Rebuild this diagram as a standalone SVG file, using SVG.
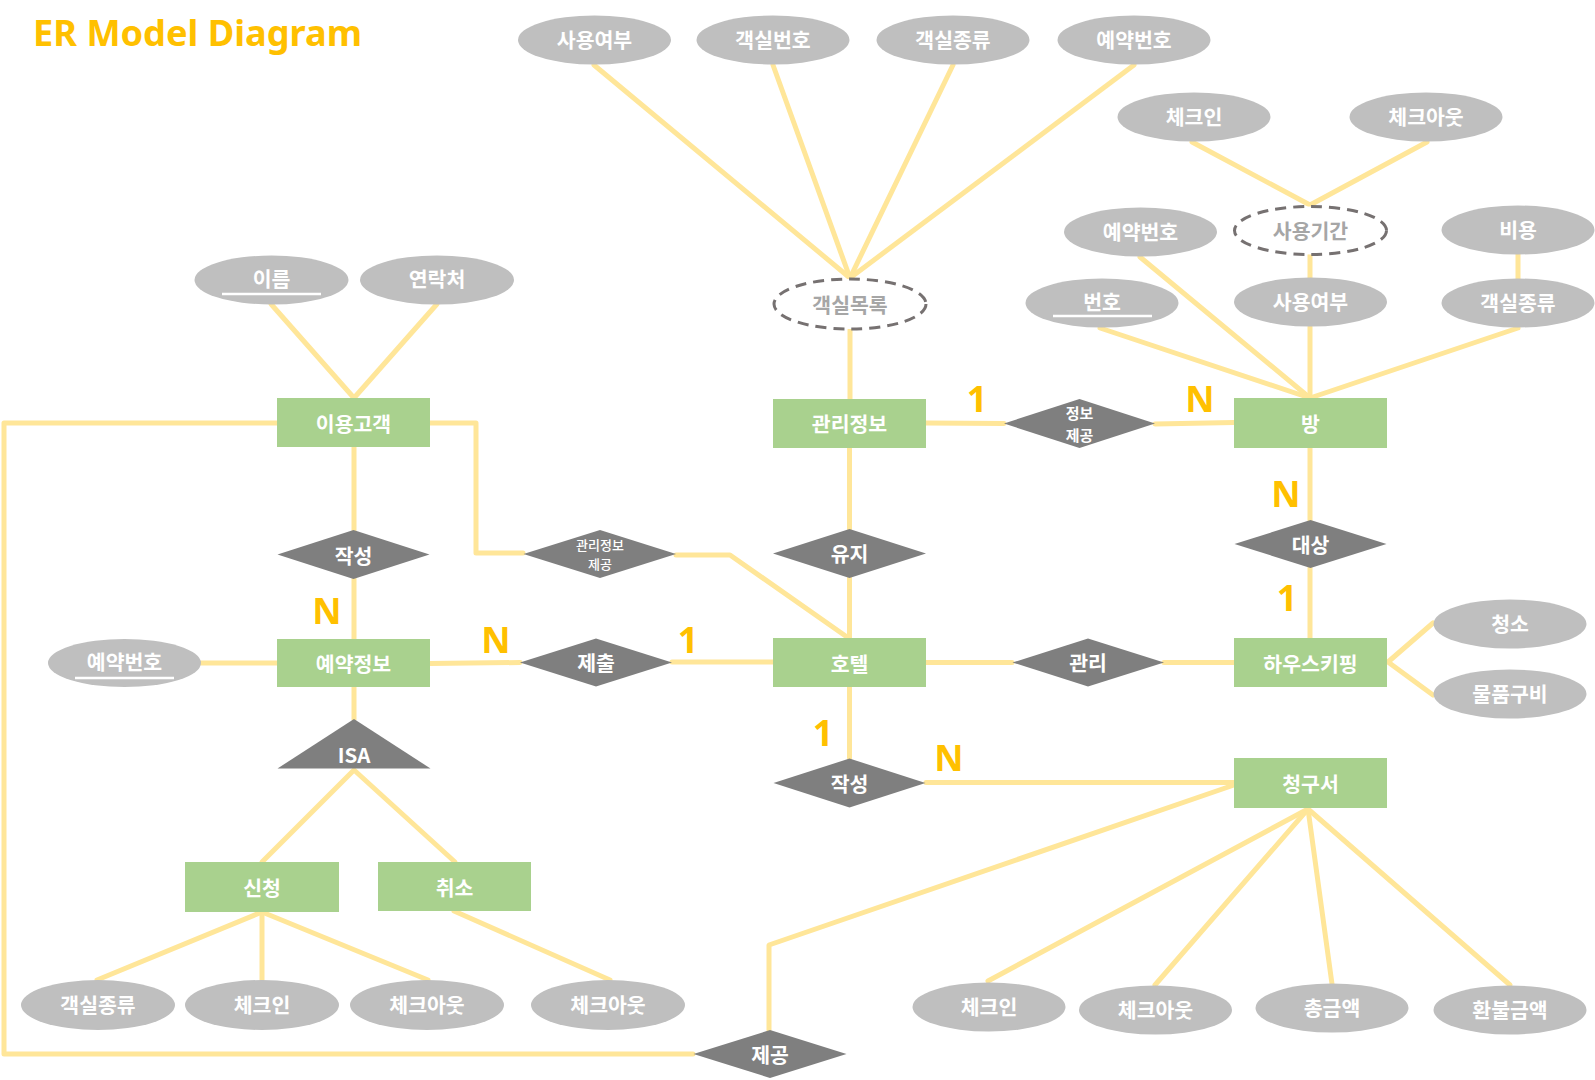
<svg xmlns="http://www.w3.org/2000/svg" width="1595" height="1080" viewBox="0 0 1595 1080">
<style>
.c{fill:none;stroke:#FFE699;stroke-width:5;stroke-linecap:round;stroke-linejoin:round}
.ent{fill:#A9D18E}
.rel{fill:#7F7F7F}
.att{fill:#BFBFBF}
.der{fill:#FFFFFF;stroke:#767171;stroke-width:3;stroke-dasharray:11 7}
.t{font-family:"Noto Sans CJK KR","Noto Sans",sans-serif;font-weight:700;font-size:20.5px;fill:#FFFFFF;text-anchor:middle;dominant-baseline:central}
.td{fill:#A6A6A6}
.s15{font-size:15px}
.s14{font-size:13px;font-weight:500}
.card{font-family:"Noto Sans","Noto Sans CJK KR",sans-serif;font-weight:700;font-size:36px;fill:#FFC000;text-anchor:middle}
.ul{stroke:#FFFFFF;stroke-width:2.5}
</style>
<rect width="1595" height="1080" fill="#FFFFFF"/>
<text x="33" y="46" font-family="Noto Sans, Noto Sans CJK KR, sans-serif" font-weight="700" font-size="36" fill="#FFC000" textLength="329" lengthAdjust="spacingAndGlyphs">ER Model Diagram</text>
<g id="connectors">
<polyline class="c" points="271,304 354,398 437,304"/>
<line class="c" x1="354" y1="447" x2="354" y2="530"/>
<line class="c" x1="354" y1="579" x2="354" y2="639"/>
<line class="c" x1="201" y1="663" x2="277" y2="663"/>
<line class="c" x1="430" y1="663.5" x2="520" y2="662.5"/>
<line class="c" x1="672" y1="662" x2="773" y2="662"/>
<line class="c" x1="354" y1="687" x2="354" y2="719"/>
<polyline class="c" points="262,862 354,770 455,862"/>
<line class="c" x1="262" y1="912" x2="97" y2="980"/>
<line class="c" x1="262" y1="912" x2="262" y2="980"/>
<line class="c" x1="262" y1="912" x2="428" y2="980"/>
<line class="c" x1="454" y1="911" x2="610" y2="980"/>
<polyline class="c" points="277,423 4,423 4,1054 693,1054"/>
<polyline class="c" points="430,423 476,423 476,553 523,553"/>
<polyline class="c" points="676,555 730,555 847,637"/>
<line class="c" x1="850" y1="330" x2="850" y2="399"/>
<line class="c" x1="594" y1="65" x2="850" y2="278"/>
<line class="c" x1="773" y1="65" x2="850" y2="278"/>
<line class="c" x1="953" y1="65" x2="850" y2="278"/>
<line class="c" x1="1134" y1="65" x2="850" y2="278"/>
<line class="c" x1="849.5" y1="448" x2="849.5" y2="529"/>
<line class="c" x1="849.5" y1="578" x2="849.5" y2="638"/>
<line class="c" x1="926" y1="423" x2="1004" y2="423.5"/>
<line class="c" x1="1155" y1="424" x2="1234" y2="422.5"/>
<line class="c" x1="1100" y1="328" x2="1310" y2="398"/>
<line class="c" x1="1140" y1="257" x2="1310" y2="398"/>
<line class="c" x1="1310" y1="327" x2="1310" y2="398"/>
<line class="c" x1="1518" y1="328" x2="1310" y2="398"/>
<line class="c" x1="1310" y1="255" x2="1310" y2="278"/>
<line class="c" x1="1518" y1="254" x2="1518" y2="279"/>
<polyline class="c" points="1192,142 1310,205 1427,142"/>
<line class="c" x1="1310" y1="448" x2="1310" y2="520"/>
<line class="c" x1="1310" y1="568" x2="1310" y2="638"/>
<line class="c" x1="926" y1="662.5" x2="1012" y2="662.5"/>
<line class="c" x1="1164" y1="662.5" x2="1234" y2="662.5"/>
<polyline class="c" points="1433,623 1388,662 1433,695"/>
<line class="c" x1="849.5" y1="687" x2="849.5" y2="758"/>
<line class="c" x1="926" y1="782.5" x2="1234" y2="782.5"/>
<polyline class="c" points="1234,785 769,945 769,1030"/>
<line class="c" x1="1308" y1="809" x2="988" y2="981"/>
<line class="c" x1="1308" y1="809" x2="1155" y2="985"/>
<line class="c" x1="1308" y1="809" x2="1332" y2="984"/>
<line class="c" x1="1308" y1="809" x2="1510" y2="985"/>
</g>
<g id="cardinalities">
<text class="card" x="327" y="624">N</text>
<text class="card" x="496" y="653">N</text>
<text class="card" x="688" y="653">1</text>
<text class="card" x="977" y="412">1</text>
<text class="card" x="1200" y="412">N</text>
<text class="card" x="1286" y="507">N</text>
<text class="card" x="1287" y="611">1</text>
<text class="card" x="823" y="746">1</text>
<text class="card" x="949" y="771">N</text>
</g>
<g id="n-customer"><rect class="ent" x="277" y="398" width="153" height="49"/><text class="t" x="353.5" y="422.5">이용고객</text></g>
<g id="n-reservation"><rect class="ent" x="277" y="639" width="153" height="48"/><text class="t" x="353.5" y="663">예약정보</text></g>
<g id="n-mgmtinfo"><rect class="ent" x="773" y="399" width="153" height="49"/><text class="t" x="849.5" y="423">관리정보</text></g>
<g id="n-hotel"><rect class="ent" x="773" y="638" width="153" height="49"/><text class="t" x="849.5" y="662.5">호텔</text></g>
<g id="n-room"><rect class="ent" x="1234" y="398" width="153" height="50"/><text class="t" x="1310.5" y="423">방</text></g>
<g id="n-housekeeping"><rect class="ent" x="1234" y="638" width="153" height="49"/><text class="t" x="1310.5" y="662.5">하우스키핑</text></g>
<g id="n-bill"><rect class="ent" x="1234" y="758" width="153" height="50"/><text class="t" x="1310.5" y="783">청구서</text></g>
<g id="n-apply"><rect class="ent" x="185" y="862" width="154" height="50"/><text class="t" x="262" y="887">신청</text></g>
<g id="n-cancel"><rect class="ent" x="378" y="862" width="153" height="49"/><text class="t" x="454.5" y="886.5">취소</text></g>
<g id="r-write1"><polygon class="rel" points="277.5,554.5 353.5,530 429.5,554.5 353.5,579"/><text class="t" x="353.5" y="554.5">작성</text></g>
<g id="r-mgmtprov"><polygon class="rel" points="523.5,554 600,530 676,554 600,578"/><text class="t s14" x="600" y="544.5">관리정보</text><text class="t s14" x="600" y="563.5">제공</text></g>
<g id="r-submit"><polygon class="rel" points="520,662.5 596,638.5 672,662.5 596,686.5"/><text class="t" x="596" y="662">제출</text></g>
<g id="r-maintain"><polygon class="rel" points="773,553.5 849.5,529 926,553.5 849.5,578"/><text class="t" x="849.5" y="553">유지</text></g>
<g id="r-infoprov"><polygon class="rel" points="1004,423.5 1079.5,399 1155,423.5 1079.5,448"/><text class="t s15" x="1079.5" y="412">정보</text><text class="t s15" x="1079.5" y="434">제공</text></g>
<g id="r-target"><polygon class="rel" points="1234.5,544 1310.5,520 1386.5,544 1310.5,568"/><text class="t" x="1310.5" y="543.5">대상</text></g>
<g id="r-manage"><polygon class="rel" points="1012.5,662.5 1088,638.5 1164,662.5 1088,686.5"/><text class="t" x="1088" y="662">관리</text></g>
<g id="r-write2"><polygon class="rel" points="773.5,783 849.5,758.5 925.5,783 849.5,807.5"/><text class="t" x="849.5" y="782.5">작성</text></g>
<g id="r-provide"><polygon class="rel" points="693.5,1054 770,1030 846.5,1054 770,1078"/><text class="t" x="770" y="1054">제공</text></g>
<g id="r-isa"><polygon class="rel" points="354,719 277.5,768.5 430.5,768.5"/><text class="t" x="354" y="754">ISA</text></g>
<g id="a-name"><ellipse class="att" cx="271.5" cy="280" rx="77" ry="24.5"/><text class="t" x="271.5" y="278">이름</text><line class="ul" x1="222" y1="294" x2="321" y2="294"/></g>
<g id="a-contact"><ellipse class="att" cx="437" cy="280" rx="77" ry="24.5"/><text class="t" x="437" y="278">연락처</text></g>
<g id="a-resno1"><ellipse class="att" cx="124.5" cy="663" rx="76.5" ry="24"/><text class="t" x="124.5" y="661">예약번호</text><line class="ul" x1="75" y1="678" x2="174" y2="678"/></g>
<g id="a-use1"><ellipse class="att" cx="594.5" cy="40" rx="76.5" ry="24.5"/><text class="t" x="594.5" y="39">사용여부</text></g>
<g id="a-roomno"><ellipse class="att" cx="773" cy="40" rx="76.5" ry="24.5"/><text class="t" x="773" y="39">객실번호</text></g>
<g id="a-roomtype1"><ellipse class="att" cx="953" cy="40" rx="76.5" ry="24.5"/><text class="t" x="953" y="39">객실종류</text></g>
<g id="a-resno2"><ellipse class="att" cx="1134" cy="40" rx="76.5" ry="24.5"/><text class="t" x="1134" y="39">예약번호</text></g>
<g id="a-roomlist"><ellipse class="der" cx="850" cy="304" rx="76" ry="25"/><text class="t td" x="850" y="304">객실목록</text></g>
<g id="a-checkin1"><ellipse class="att" cx="1194" cy="117" rx="76.5" ry="24.5"/><text class="t" x="1194" y="116">체크인</text></g>
<g id="a-checkout1"><ellipse class="att" cx="1426" cy="117" rx="76.5" ry="24.5"/><text class="t" x="1426" y="116">체크아웃</text></g>
<g id="a-period"><ellipse class="der" cx="1310.5" cy="230.5" rx="76" ry="24"/><text class="t td" x="1310.5" y="230">사용기간</text></g>
<g id="a-resno3"><ellipse class="att" cx="1140.5" cy="232" rx="76.5" ry="24.5"/><text class="t" x="1140.5" y="231">예약번호</text></g>
<g id="a-cost"><ellipse class="att" cx="1518" cy="230" rx="76.5" ry="24.5"/><text class="t" x="1518" y="229">비용</text></g>
<g id="a-no"><ellipse class="att" cx="1102" cy="303" rx="76.5" ry="24.5"/><text class="t" x="1102" y="301">번호</text><line class="ul" x1="1053" y1="316" x2="1152" y2="316"/></g>
<g id="a-use2"><ellipse class="att" cx="1310.5" cy="302" rx="76.5" ry="24.5"/><text class="t" x="1310.5" y="301">사용여부</text></g>
<g id="a-roomtype2"><ellipse class="att" cx="1518" cy="303" rx="76.5" ry="24.5"/><text class="t" x="1518" y="302">객실종류</text></g>
<g id="a-clean"><ellipse class="att" cx="1510" cy="624" rx="76.5" ry="24.5"/><text class="t" x="1510" y="623">청소</text></g>
<g id="a-supply"><ellipse class="att" cx="1510" cy="694" rx="76.5" ry="24.5"/><text class="t" x="1510" y="693">물품구비</text></g>
<g id="a-roomtype3"><ellipse class="att" cx="98" cy="1005" rx="77" ry="25"/><text class="t" x="98" y="1004">객실종류</text></g>
<g id="a-checkin2"><ellipse class="att" cx="262" cy="1005" rx="77" ry="25"/><text class="t" x="262" y="1004">체크인</text></g>
<g id="a-checkout2"><ellipse class="att" cx="427" cy="1005" rx="77" ry="25"/><text class="t" x="427" y="1004">체크아웃</text></g>
<g id="a-checkout3"><ellipse class="att" cx="608" cy="1005" rx="77" ry="25"/><text class="t" x="608" y="1004">체크아웃</text></g>
<g id="a-checkin3"><ellipse class="att" cx="989" cy="1007" rx="76.5" ry="24.5"/><text class="t" x="989" y="1006">체크인</text></g>
<g id="a-checkout4"><ellipse class="att" cx="1155.5" cy="1010" rx="76.5" ry="24.5"/><text class="t" x="1155.5" y="1009">체크아웃</text></g>
<g id="a-total"><ellipse class="att" cx="1332" cy="1008" rx="76.5" ry="24.5"/><text class="t" x="1332" y="1007">총금액</text></g>
<g id="a-refund"><ellipse class="att" cx="1510" cy="1010" rx="76.5" ry="24.5"/><text class="t" x="1510" y="1009">환불금액</text></g>
</svg>
